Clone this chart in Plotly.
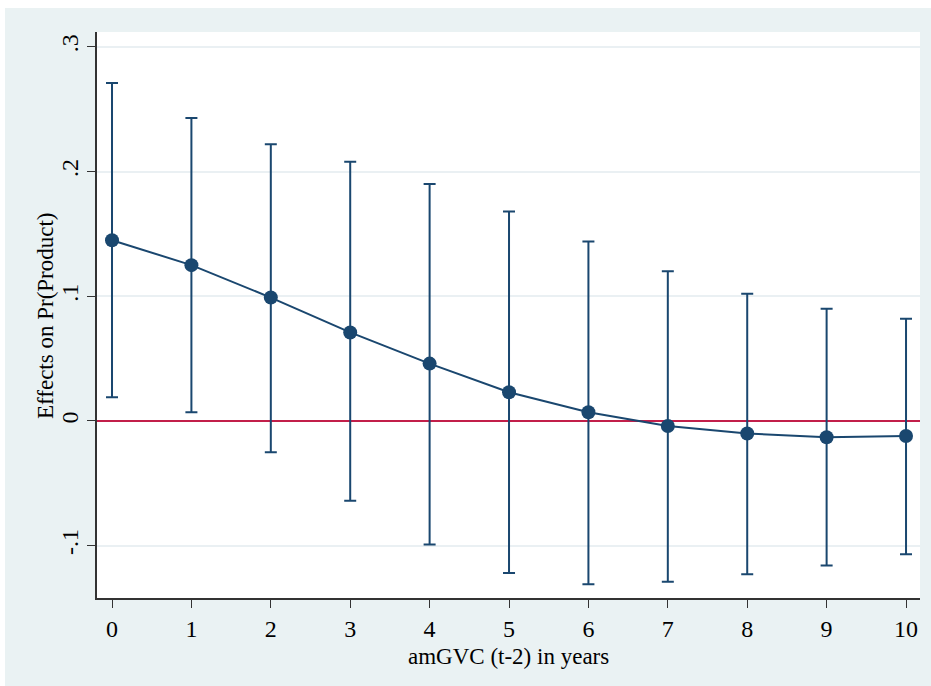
import plotly.graph_objects as go

years = [0, 1, 2, 3, 4, 5, 6, 7, 8, 9, 10]
effect = [0.145, 0.125, 0.099, 0.071, 0.046, 0.023, 0.007, -0.004, -0.010, -0.013, -0.012]
upper = [0.271, 0.243, 0.222, 0.208, 0.190, 0.168, 0.144, 0.120, 0.102, 0.090, 0.082]
lower = [0.019, 0.007, -0.025, -0.064, -0.099, -0.122, -0.131, -0.129, -0.123, -0.116, -0.107]
ytick_vals = [-0.1, 0, 0.1, 0.2, 0.3]
ytick_text = ["-.1", "0", ".1", ".2", ".3"]
xtick_vals = years
x_title = "amGVC (t-2) in years"
y_title = "Effects on Pr(Product)"

navy = "#1a476f"
red = "#c21f4a"
panel = "#eaf2f3"
font = "Liberation Serif"
fs = 23
tfs = 24

err_plus = [u - e for u, e in zip(upper, effect)]
err_minus = [e - l for e, l in zip(effect, lower)]

fig = go.Figure()

W, H = 931, 686
L, R, T, B = 97, 920, 32, 598
pw, ph = R - L, B - T
fig.add_shape(type="rect", xref="paper", yref="paper",
              x0=(5 - L) / pw, x1=(W + 5 - L) / pw,
              y0=(B - (H + 5)) / ph, y1=(B - 8) / ph,
              fillcolor=panel, line=dict(width=0), layer="below")
fig.add_shape(type="rect", xref="paper", yref="paper",
              x0=0, x1=1, y0=0, y1=1,
              fillcolor="white", line=dict(width=0), layer="below")

fig.add_trace(go.Scatter(
    x=years, y=effect, mode="lines+markers",
    line=dict(color=navy, width=2),
    marker=dict(color=navy, size=14, symbol="circle"),
    error_y=dict(type="data", symmetric=False, array=err_plus, arrayminus=err_minus,
                 color=navy, thickness=2, width=6),
    showlegend=False, hoverinfo="x+y",
))

fig.add_annotation(text=x_title, xref="paper", yref="paper",
                   x=(508 - L) / pw, y=(B - 656) / ph, xanchor="center", yanchor="middle",
                   showarrow=False, font=dict(family=font, size=fs, color="black"))
fig.add_annotation(text=y_title, xref="paper", yref="paper", textangle=-90,
                   x=(45 - L) / pw, y=(B - 316) / ph, xanchor="center", yanchor="middle",
                   showarrow=False, font=dict(family=font, size=fs, color="black"))

fig.update_layout(
    width=W, height=H,
    margin=dict(l=L, r=W - R, t=T, b=H - B),
    paper_bgcolor="white", plot_bgcolor="rgba(0,0,0,0)",
    font=dict(family=font, size=fs, color="black"),
    xaxis=dict(range=[-0.189, 10.176], tickvals=xtick_vals, ticks="outside",
               ticklen=8, tickwidth=1.3, tickcolor="#333", showgrid=False, zeroline=False,
               showline=True, linecolor="#333", linewidth=1.5,
               tickfont=dict(family=font, size=tfs)),
    yaxis=dict(range=[-0.142, 0.312], tickvals=ytick_vals, ticktext=ytick_text,
               tickangle=-90, ticks="outside", ticklen=8, tickwidth=1.3, tickcolor="#333",
               showgrid=True, gridcolor="#eaf0f3", gridwidth=1.5,
               zeroline=True, zerolinecolor=red, zerolinewidth=2,
               showline=True, linecolor="#333", linewidth=1.5,
               tickfont=dict(family=font, size=tfs)),
)

fig.write_html("out.html")
